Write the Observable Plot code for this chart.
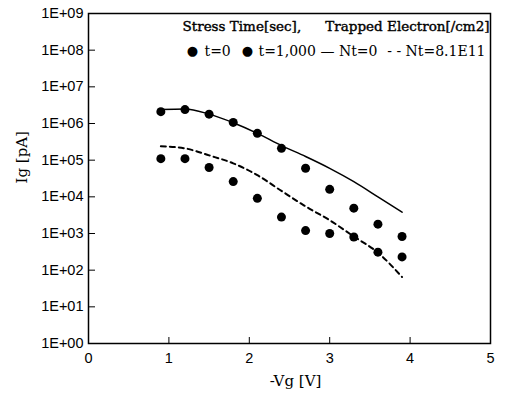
<!DOCTYPE html>
<html><head><meta charset="utf-8">
<script src="https://cdn.jsdelivr.net/npm/d3@7"></script>
<script src="https://cdn.jsdelivr.net/npm/@observablehq/plot@0.6"></script>
<style>
html,body{margin:0;padding:0;background:#fff;}
#chart{width:505px;height:399px;}
</style></head><body><div id="chart"></div>
<script>
// -Vg [V]
const vg = [0.9, 1.2, 1.5, 1.8, 2.1, 2.4, 2.7, 3.0, 3.3, 3.6, 3.9];
// measured Ig [pA], stress time t=0
const igT0 = [2.1e6, 2.4e6, 1.8e6, 1.07e6, 5.4e5, 2.1e5, 6.0e4, 1.6e4, 4.9e3, 1.8e3, 8.3e2];
// measured Ig [pA], stress time t=1,000 s
const igT1000 = [1.1e5, 1.1e5, 6.3e4, 2.6e4, 9.1e3, 2.8e3, 1.2e3, 1.0e3, 8.0e2, 3.1e2, 2.3e2];
// simulated, Nt=0
const simNt0 = [2.4e6, 2.5e6, 1.8e6, 1.05e6, 5.4e5, 2.5e5, 1.26e5, 6.0e4, 2.6e4, 1.0e4, 3.8e3];
// simulated, Nt=8.1E11
const simNt81 = [2.4e5, 2.1e5, 1.35e5, 8.2e4, 3.9e4, 1.45e4, 5.5e3, 2.3e3, 8.3e2, 3.0e2, 65];

const yTicks = [1, 1e1, 1e2, 1e3, 1e4, 1e5, 1e6, 1e7, 1e8, 1e9];
const xTicks = [0, 1, 2, 3, 4, 5];

const legendTitle1 = "Stress Time[sec],";
const legendTitle2 = "Trapped Electron[/cm2]";
const legendT0 = "t=0";
const legendT1000 = "t=1,000";
const legendNt0 = "\u2014 Nt=0";
const legendNt81 = "- - Nt=8.1E11";
const xLabel = "-Vg [V]";
const yLabel = "Ig [pA]";

const toRows = (ys) => vg.map((x, i) => ({x, y: ys[i]}));
const pts0 = toRows(igT0), pts1 = toRows(igT1000);
const line0 = toRows(simNt0), line1 = toRows(simNt81);

const W = 505, H = 399, mL = 88, mR = 15, mT = 13, mB = 56;
const pw = W - mL - mR, ph = H - mT - mB;
const serif = "'DejaVu Serif', serif";
const sans = "'Liberation Sans', Arial, sans-serif";

const plot = Plot.plot({
  width: W, height: H,
  marginLeft: mL, marginRight: mR, marginTop: mT, marginBottom: mB,
  style: {fontFamily: sans, fontSize: "14px", color: "#000", background: "#fff"},
  x: {domain: [0, 5]},
  y: {type: "log", domain: [1, 1e9]},
  marks: [
    Plot.axisY(yTicks, {tickSize: 0, tickPadding: 5, label: null, fontSize: 14.5,
      tickFormat: d => "1E+" + String(Math.round(Math.log10(d))).padStart(2, "0")}),
    Plot.axisX(xTicks, {tickSize: 0, tickPadding: 9, label: null, fontSize: 14.5}),
    Plot.tickY(yTicks.slice(1, -1), {y: d => d, insetRight: pw - 7, stroke: "#000", strokeWidth: 1}),
    Plot.tickX(xTicks.slice(1, -1), {x: d => d, insetTop: ph - 6, stroke: "#000", strokeWidth: 1}),
    Plot.frame({stroke: "#000", strokeWidth: 1.5}),
    Plot.line(line0, {x: "x", y: "y", curve: "monotone-x", stroke: "#000", strokeWidth: 1.5}),
    Plot.line(line1, {x: "x", y: "y", curve: "monotone-x", stroke: "#000", strokeWidth: 2, strokeDasharray: "5,4"}),
    Plot.dot(pts0, {x: "x", y: "y", r: 4.5, fill: "#000"}),
    Plot.dot(pts1, {x: "x", y: "y", r: 4.5, fill: "#000"}),
    // legend
    Plot.text([legendTitle1], {frameAnchor: "top-left", textAnchor: "start", dx: 94, dy: 8, fontFamily: serif, fontSize: 13.5, stroke: "#000", strokeWidth: 0.4, fill: "#000"}),
    Plot.text([legendTitle2], {frameAnchor: "top-right", textAnchor: "end", dx: -1, dy: 8, fontFamily: serif, fontSize: 13.5, stroke: "#000", strokeWidth: 0.4, fill: "#000"}),
    Plot.text(["\u25CF"], {frameAnchor: "top-left", textAnchor: "middle", dx: 104, dy: 32, fontFamily: "DejaVu Sans", fontSize: 13}),
    Plot.text(["\u25CF"], {frameAnchor: "top-left", textAnchor: "middle", dx: 159, dy: 32, fontFamily: "DejaVu Sans", fontSize: 13}),
    Plot.text([legendT0], {frameAnchor: "top-left", textAnchor: "start", dx: 116, dy: 33, fontFamily: serif, fontSize: 14}),
    Plot.text([legendT1000], {frameAnchor: "top-left", textAnchor: "start", dx: 170, dy: 33, fontFamily: serif, fontSize: 14}),
    Plot.text([legendNt0], {frameAnchor: "top-left", textAnchor: "start", dx: 232, dy: 33, fontFamily: serif, fontSize: 14}),
    Plot.text([legendNt81], {frameAnchor: "top-right", textAnchor: "end", dx: -5, dy: 33, fontFamily: serif, fontSize: 14}),
    // axis labels
    Plot.text([yLabel], {frameAnchor: "left", rotate: -90, dx: -66, dy: 5, fontFamily: serif, fontSize: 15}),
    Plot.text([xLabel], {frameAnchor: "bottom", dx: 6, dy: 42, fontFamily: serif, fontSize: 15})
  ]
});
document.getElementById("chart").append(plot);
</script></body></html>
